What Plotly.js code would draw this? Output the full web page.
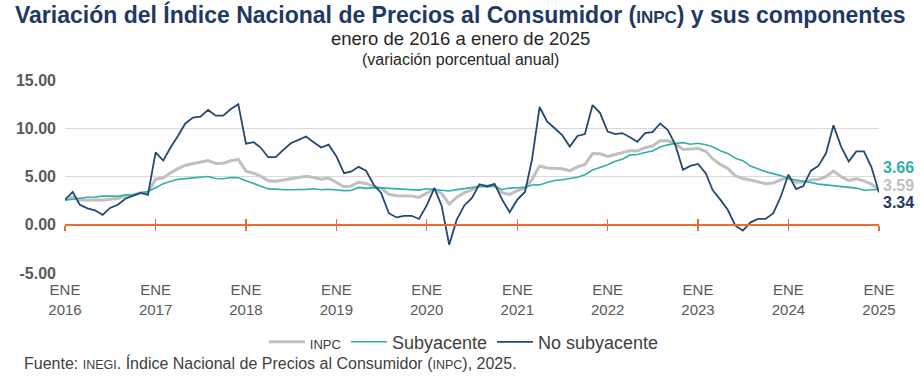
<!DOCTYPE html>
<html>
<head>
<meta charset="utf-8">
<script src="https://cdn.plot.ly/plotly-3.0.1.min.js"></script>
<style>html,body{margin:0;padding:0;background:#fff;}#chart{width:921px;height:385px;}</style>
</head>
<body>
<div id="chart"></div>
<script>
// Months: January 2016 to January 2025
const months = [];
for (let y = 2016; y <= 2025; y++) {
  for (let m = 1; m <= 12; m++) {
    if (y === 2025 && m > 1) break;
    months.push(y + '-' + String(m).padStart(2, '0') + '-01');
  }
}
const tickYears = ['2016','2017','2018','2019','2020','2021','2022','2023','2024','2025'];
const tickDates = tickYears.map(y => y + '-01-01');
const tickLabels = tickYears.map(y => 'ENE<br>' + y);

const inpc = [
  2.61, 2.87, 2.60, 2.54, 2.60, 2.54, 2.65, 2.73, 2.97, 3.06, 3.31, 3.36,
  4.72, 4.86, 5.35, 5.82, 6.16, 6.31, 6.44, 6.66, 6.35, 6.37, 6.63, 6.77,
  5.55, 5.34, 5.04, 4.55, 4.51, 4.65, 4.81, 4.90, 5.02, 4.90, 4.72, 4.83,
  4.37, 3.94, 4.00, 4.41, 4.28, 3.95, 3.78, 3.16, 3.00, 3.02, 2.97, 2.83,
  3.24, 3.70, 3.25, 2.15, 2.84, 3.33, 3.62, 4.05, 4.01, 4.09, 3.33, 3.15,
  3.54, 3.76, 4.67, 6.08, 5.89, 5.88, 5.81, 5.59, 6.00, 6.24, 7.37, 7.36,
  7.07, 7.28, 7.45, 7.68, 7.65, 7.99, 8.15, 8.70, 8.70, 8.41, 7.80, 7.82,
  7.91, 7.62, 6.85, 6.25, 5.84, 5.06, 4.79, 4.64, 4.45, 4.26, 4.32, 4.66,
  4.88, 4.40, 4.42, 4.65, 4.69, 4.98, 5.57, 4.99, 4.58, 4.76, 4.55, 4.21,
  3.59
];
const subyacente = [
  2.54, 2.66, 2.76, 2.85, 2.88, 2.97, 2.97, 2.94, 3.10, 3.10, 3.29, 3.44,
  3.84, 4.26, 4.48, 4.72, 4.78, 4.83, 4.94, 5.00, 4.80, 4.77, 4.90, 4.87,
  4.56, 4.27, 4.02, 3.71, 3.69, 3.62, 3.63, 3.63, 3.67, 3.73, 3.63, 3.68,
  3.60, 3.54, 3.55, 3.87, 3.77, 3.85, 3.82, 3.78, 3.75, 3.68, 3.65, 3.59,
  3.73, 3.66, 3.60, 3.50, 3.64, 3.71, 3.85, 3.97, 3.99, 3.98, 3.66, 3.80,
  3.84, 3.87, 4.12, 4.13, 4.37, 4.58, 4.66, 4.78, 4.92, 5.19, 5.67, 5.94,
  6.21, 6.59, 6.78, 7.22, 7.28, 7.49, 7.65, 8.05, 8.28, 8.42, 8.51, 8.35,
  8.45, 8.29, 8.09, 7.67, 7.39, 6.89, 6.64, 6.08, 5.76, 5.50, 5.30, 5.09,
  4.76, 4.64, 4.55, 4.37, 4.21, 4.13, 4.05, 4.00, 3.91, 3.80, 3.58, 3.65,
  3.66
];
const noSubyacente = [
  2.60, 3.40, 2.07, 1.70, 1.50, 1.03, 1.74, 2.07, 2.70, 3.00, 3.30, 3.10,
  7.50, 6.65, 7.95, 9.20, 10.50, 11.10, 11.20, 11.90, 11.30, 11.30, 12.00, 12.50,
  8.40, 8.55, 8.00, 7.00, 7.00, 7.75, 8.45, 8.80, 9.15, 8.55, 8.00, 8.30,
  7.10, 5.35, 5.50, 6.00, 5.60, 4.14, 3.30, 1.20, 0.76, 0.93, 0.93, 0.60,
  2.00, 3.80, 2.00, -2.07, 0.50, 2.00, 2.75, 4.20, 3.97, 4.24, 2.60, 1.30,
  2.60, 3.40, 6.70, 12.20, 10.70, 10.00, 9.30, 8.10, 9.20, 9.40, 12.40, 11.60,
  9.65, 9.40, 9.50, 9.07, 8.60, 9.50, 9.60, 10.50, 9.80, 8.30, 5.70, 6.10,
  6.30, 5.35, 3.60, 2.60, 1.55, -0.10, -0.60, 0.25, 0.60, 0.60, 1.20, 2.90,
  5.20, 3.70, 4.00, 5.60, 6.10, 7.40, 10.30, 8.10, 6.55, 7.60, 7.60, 6.00,
  3.34
];

const cGray = '#c0c0c0', cTeal = '#2fb0aa', cNavy = '#24496e', cOrange = '#ee6a33';
const yMin = -5, yMax = 15;
const zeroPos = (0 - yMin) / (yMax - yMin);
const last = months.length - 1;
const FONT = 'Liberation Sans, Arial, sans-serif';

const traces = [
  {x: months, y: inpc, name: '<span style="font-size:13px">INPC</span>', type: 'scatter', mode: 'lines',
   line: {color: cGray, width: 3}},
  {x: months, y: subyacente, name: 'Subyacente', type: 'scatter', mode: 'lines',
   line: {color: cTeal, width: 1.6}},
  {x: months, y: noSubyacente, name: 'No subyacente', type: 'scatter', mode: 'lines',
   line: {color: cNavy, width: 1.8}},
  {x: [], y: [], xaxis: 'x2', showlegend: false, hoverinfo: 'skip'},
  {x: [], y: [], xaxis: 'x3', showlegend: false, hoverinfo: 'skip'}
];

const orangeAxis = (dir) => ({
  overlaying: 'x', matches: 'x', anchor: 'free', position: zeroPos, type: 'date',
  showline: true, linecolor: cOrange, linewidth: 2,
  ticks: dir, ticklen: 5, tickwidth: 1.5, tickcolor: cOrange,
  tickmode: 'array', tickvals: tickDates, showticklabels: false, showgrid: false, zeroline: false
});

const layout = {
  width: 921, height: 385,
  margin: {l: 65, r: 42, t: 80, b: 112},
  paper_bgcolor: '#fff', plot_bgcolor: '#fff',
  font: {family: FONT, color: '#595959'},
  showlegend: true,
  legend: {orientation: 'h', x: 0.49, xanchor: 'center', y: -0.358, yanchor: 'middle',
           font: {size: 18, color: '#404040', family: FONT}, itemwidth: 36, tracegroupgap: 0},
  xaxis: {type: 'date', range: [months[0], months[last]], tickmode: 'array',
          tickvals: tickDates, ticktext: tickLabels, showgrid: false, zeroline: false,
          showline: false, ticks: '', ticklabelstandoff: 6,
          tickfont: {size: 15, color: '#595959', family: FONT}},
  xaxis2: orangeAxis('outside'),
  xaxis3: orangeAxis('inside'),
  yaxis: {range: [yMin, yMax], tickmode: 'array', tickvals: [-5, 0, 5, 10, 15],
          ticktext: ['-5.00', '0.00', '5.00', '10.00', '15.00'],
          showgrid: true, gridcolor: '#d9d9d9', gridwidth: 1.5, zeroline: false,
          showline: false, ticks: '', ticklabelstandoff: 8,
          tickfont: {size: 16, color: '#595959', family: FONT, weight: 'bold'}},
  annotations: [
    {xref: 'paper', yref: 'paper', x: 0.486, y: (273 - 15) / 193, xanchor: 'center', yanchor: 'middle', showarrow: false,
     text: '<b>Variación del Índice Nacional de Precios al Consumidor (<span style="font-size:17px">INPC</span>) y sus componentes</b>',
     font: {size: 23, color: '#1f3864', family: FONT}},
    {xref: 'paper', yref: 'paper', x: 0.486, y: (273 - 38.5) / 193, xanchor: 'center', yanchor: 'middle', showarrow: false,
     text: 'enero de 2016 a enero de 2025', font: {size: 18.5, color: '#262626', family: FONT}},
    {xref: 'paper', yref: 'paper', x: 0.486, y: (273 - 59.5) / 193, xanchor: 'center', yanchor: 'middle', showarrow: false,
     text: '(variación porcentual anual)', font: {size: 16, color: '#262626', family: FONT}},
    {xref: 'paper', yref: 'paper', x: (22 - 65) / 814, y: (273 - 363) / 193, xanchor: 'left', yanchor: 'middle', showarrow: false,
     text: 'Fuente: <span style="font-size:12.5px">INEGI</span>. Índice Nacional de Precios al Consumidor (<span style="font-size:12.5px">INPC</span>), 2025.',
     font: {size: 16, color: '#404040', family: FONT}},
    {x: months[last], y: subyacente[last], xanchor: 'left', yanchor: 'middle', xshift: 2, yshift: 22, showarrow: false,
     text: '<b>' + subyacente[last].toFixed(2) + '</b>', font: {size: 16, color: cTeal, family: FONT}},
    {x: months[last], y: inpc[last], xanchor: 'left', yanchor: 'middle', xshift: 2, yshift: 5, showarrow: false,
     text: '<b>' + inpc[last].toFixed(2) + '</b>', font: {size: 16, color: cGray, family: FONT}},
    {x: months[last], y: noSubyacente[last], xanchor: 'left', yanchor: 'middle', xshift: 2, yshift: -10, showarrow: false,
     text: '<b>' + noSubyacente[last].toFixed(2) + '</b>', font: {size: 16, color: '#1f3864', family: FONT}}
  ]
};

Plotly.newPlot('chart', traces, layout, {displayModeBar: false, staticPlot: true});
</script>
</body>
</html>
